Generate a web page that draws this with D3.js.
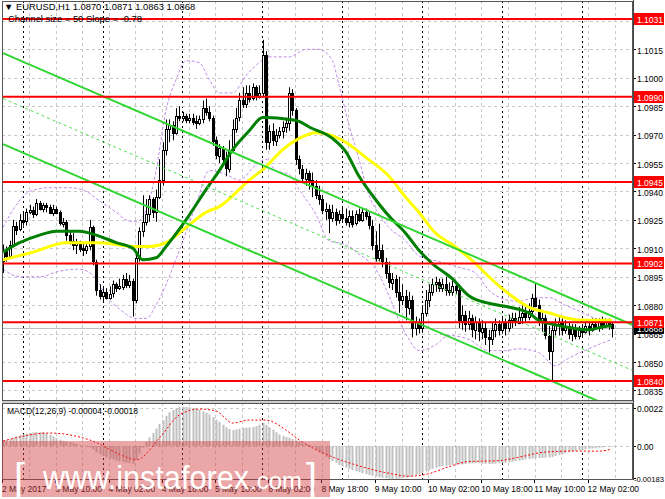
<!DOCTYPE html>
<html><head><meta charset="utf-8">
<script src="https://cdn.jsdelivr.net/npm/d3@7"></script>
<style>
html,body{margin:0;padding:0;background:#fff;}
svg{display:block;}
text{font-family:"Liberation Sans",Arial,sans-serif;}
</style></head><body>
<svg id="c" width="665" height="499"></svg>
<script>
// ---------------- DATA ----------------
const symbolTitle = "EURUSD,H1";
const headerOHLC = ["1.0870", "1.0871", "1.0863", "1.0868"];
const channelText = "Channel size = 50 Slope = -0.78";
const macdText = "MACD(12,26,9) -0.00004 -0.00018";

const timeLabels = ["2 May 2017","3 May 10:00","4 May 02:00","4 May 18:00","5 May 10:00","8 May 02:00","8 May 18:00","9 May 10:00","10 May 02:00","10 May 18:00","11 May 10:00","12 May 02:00"];
const timeLabelBars = [0,16,32,48,64,80,96,112,128,144,160,176];
const daySeparatorBars = [6,30,54,78,102,126,150,174];

const priceTicks = [1.0835,1.0850,1.0865,1.0880,1.0895,1.0910,1.0925,1.0940,1.0955,1.0970,1.0985,1.1000,1.1015,1.1030];
const levelPrices = [1.1031,1.0990,1.0945,1.0902,1.0871,1.0840];
const currentPrice = 1.0868;
const macdTicks = [0.0022, 0.0, -0.00183];
const macdTickLabels = ["0.0022", "0.00", "-0.00183"];

const open = [
1.0903,1.0909,1.0906,1.0912,1.0922,1.0920,1.0925,1.0924,1.0929,1.0930,
1.0928,1.0934,1.0931,1.0933,1.0932,1.0929,1.0931,1.0929,1.0923,1.0924,
1.0917,1.0914,1.0912,1.0913,1.0910,1.0909,1.0911,1.0921,1.0903,1.0888,
1.0885,1.0887,1.0884,1.0886,1.0891,1.0889,1.0890,1.0894,1.0891,1.0893,
1.0883,1.0905,1.0919,1.0924,1.0928,1.0936,1.0929,1.0937,1.0946,1.0962,
1.0973,1.0975,1.0971,1.0980,1.0979,1.0980,1.0978,1.0979,1.0977,1.0976,
1.0978,1.0984,1.0982,1.0979,1.0967,1.0959,1.0963,1.0957,1.0952,1.0962,
1.0973,1.0979,1.0988,1.0986,1.0992,1.0989,1.0995,1.0990,1.0992,1.1012,
1.0966,1.0972,1.0967,1.0970,1.0972,1.0974,1.0976,1.0992,1.0983,1.0957,
1.0952,1.0947,1.0950,1.0946,1.0943,1.0938,1.0936,1.0930,1.0931,1.0926,
1.0929,1.0925,1.0928,1.0926,1.0924,1.0927,1.0923,1.0928,1.0925,1.0929,
1.0927,1.0922,1.0912,1.0905,1.0909,1.0903,1.0897,1.0892,1.0894,1.0887,
1.0883,1.0885,1.0879,1.0883,1.0868,1.0871,1.0868,1.0876,1.0883,1.0887,
1.0891,1.0892,1.0889,1.0891,1.0888,1.0887,1.0890,1.0888,1.0872,1.0875,
1.0870,1.0873,1.0867,1.0871,1.0866,1.0868,1.0863,1.0862,1.0867,1.0870,
1.0867,1.0871,1.0868,1.0872,1.0873,1.0871,1.0874,1.0876,1.0874,1.0877,
1.0884,1.0880,1.0871,1.0873,1.0864,1.0856,1.0867,1.0870,1.0871,1.0867,
1.0869,1.0865,1.0868,1.0864,1.0867,1.0866,1.0869,1.0867,1.0870,1.0868,
1.0871,1.0869,1.0871,1.0870];
const high = [
1.0912,1.0911,1.0914,1.0925,1.0924,1.0928,1.0929,1.0931,1.0933,1.0932,
1.0936,1.0935,1.0934,1.0934,1.0933,1.0933,1.0932,1.0930,1.0926,1.0925,
1.0919,1.0918,1.0915,1.0914,1.0913,1.0913,1.0925,1.0922,1.0904,1.0891,
1.0889,1.0889,1.0890,1.0893,1.0892,1.0894,1.0896,1.0897,1.0896,1.0894,
1.0908,1.0921,1.0938,1.0936,1.0938,1.0937,1.0941,1.0957,1.0966,1.0978,
1.0978,1.0977,1.0984,1.0985,1.0982,1.0981,1.0981,1.0981,1.0980,1.0980,
1.0988,1.0989,1.0985,1.0980,1.0969,1.0965,1.0964,1.0961,1.0967,1.0978,
1.0984,1.0992,1.0995,1.0996,1.0996,1.0997,1.0996,1.0996,1.1020,1.1014,
1.0975,1.0976,1.0973,1.0974,1.0977,1.0979,1.0995,1.0994,1.0984,1.0959,
1.0954,1.0952,1.0951,1.0950,1.0946,1.0943,1.0938,1.0934,1.0933,1.0933,
1.0931,1.0930,1.0932,1.0931,1.0930,1.0930,1.0930,1.0931,1.0931,1.0931,
1.0929,1.0925,1.0919,1.0923,1.0912,1.0905,1.0903,1.0897,1.0896,1.0895,
1.0891,1.0888,1.0887,1.0885,1.0874,1.0873,1.0880,1.0888,1.0891,1.0894,
1.0895,1.0894,1.0894,1.0895,1.0892,1.0893,1.0892,1.0891,1.0880,1.0877,
1.0877,1.0875,1.0874,1.0873,1.0872,1.0871,1.0867,1.0871,1.0873,1.0872,
1.0874,1.0873,1.0875,1.0876,1.0876,1.0879,1.0880,1.0880,1.0881,1.0886,
1.0892,1.0883,1.0876,1.0875,1.0869,1.0870,1.0873,1.0874,1.0873,1.0872,
1.0871,1.0870,1.0870,1.0869,1.0870,1.0872,1.0872,1.0873,1.0873,1.0873,
1.0874,1.0873,1.0873,1.0871];
const low = [
1.0897,1.0903,1.0905,1.0911,1.0917,1.0919,1.0922,1.0922,1.0928,1.0926,
1.0927,1.0930,1.0929,1.0929,1.0928,1.0927,1.0928,1.0922,1.0921,1.0914,
1.0912,1.0909,1.0907,1.0908,1.0906,1.0907,1.0909,1.0901,1.0885,1.0883,
1.0882,1.0883,1.0883,1.0884,1.0887,1.0888,1.0888,1.0889,1.0889,1.0874,
1.0881,1.0903,1.0916,1.0922,1.0924,1.0926,1.0924,1.0936,1.0943,1.0959,
1.0966,1.0967,1.0970,1.0977,1.0977,1.0976,1.0976,1.0975,1.0973,1.0975,
1.0976,1.0980,1.0977,1.0964,1.0957,1.0955,1.0954,1.0948,1.0950,1.0961,
1.0971,1.0977,1.0984,1.0984,1.0987,1.0988,1.0988,1.0989,1.0990,1.0962,
1.0962,1.0964,1.0964,1.0968,1.0968,1.0971,1.0972,1.0980,1.0954,1.0949,
1.0945,1.0943,1.0941,1.0937,1.0936,1.0933,1.0928,1.0925,1.0918,1.0924,
1.0922,1.0923,1.0924,1.0922,1.0921,1.0921,1.0922,1.0924,1.0924,1.0925,
1.0920,1.0909,1.0903,1.0903,1.0900,1.0894,1.0889,1.0888,1.0884,1.0876,
1.0880,1.0872,1.0875,1.0863,1.0864,1.0865,1.0866,1.0874,1.0879,1.0885,
1.0887,1.0887,1.0887,1.0885,1.0885,1.0885,1.0886,1.0868,1.0867,1.0866,
1.0867,1.0863,1.0862,1.0861,1.0862,1.0859,1.0855,1.0859,1.0863,1.0864,
1.0865,1.0864,1.0866,1.0868,1.0869,1.0870,1.0870,1.0871,1.0872,1.0875,
1.0879,1.0869,1.0866,1.0862,1.0851,1.0840,1.0864,1.0864,1.0864,1.0865,
1.0862,1.0861,1.0862,1.0862,1.0863,1.0865,1.0864,1.0866,1.0867,1.0866,
1.0867,1.0868,1.0867,1.0863];
const close = [
1.0909,1.0906,1.0912,1.0922,1.0920,1.0925,1.0924,1.0929,1.0930,1.0928,
1.0934,1.0931,1.0933,1.0932,1.0929,1.0931,1.0929,1.0923,1.0924,1.0917,
1.0914,1.0912,1.0913,1.0910,1.0909,1.0911,1.0921,1.0903,1.0888,1.0885,
1.0887,1.0884,1.0886,1.0891,1.0889,1.0890,1.0894,1.0891,1.0893,1.0883,
1.0905,1.0919,1.0924,1.0928,1.0936,1.0929,1.0937,1.0946,1.0962,1.0973,
1.0975,1.0971,1.0980,1.0979,1.0980,1.0978,1.0979,1.0977,1.0976,1.0978,
1.0984,1.0982,1.0979,1.0967,1.0959,1.0963,1.0957,1.0952,1.0962,1.0973,
1.0979,1.0988,1.0986,1.0992,1.0989,1.0995,1.0990,1.0992,1.1012,1.0966,
1.0972,1.0967,1.0970,1.0972,1.0974,1.0976,1.0992,1.0983,1.0957,1.0952,
1.0947,1.0950,1.0946,1.0943,1.0938,1.0936,1.0930,1.0931,1.0926,1.0929,
1.0925,1.0928,1.0926,1.0924,1.0927,1.0923,1.0928,1.0925,1.0929,1.0927,
1.0922,1.0912,1.0905,1.0909,1.0903,1.0897,1.0892,1.0894,1.0887,1.0883,
1.0885,1.0879,1.0883,1.0868,1.0871,1.0868,1.0876,1.0883,1.0887,1.0891,
1.0892,1.0889,1.0891,1.0888,1.0887,1.0890,1.0888,1.0872,1.0875,1.0870,
1.0873,1.0867,1.0871,1.0866,1.0868,1.0863,1.0862,1.0867,1.0870,1.0867,
1.0871,1.0868,1.0872,1.0873,1.0871,1.0874,1.0876,1.0874,1.0877,1.0884,
1.0880,1.0871,1.0873,1.0864,1.0856,1.0867,1.0870,1.0871,1.0867,1.0869,
1.0865,1.0868,1.0864,1.0867,1.0866,1.0869,1.0867,1.0870,1.0868,1.0871,
1.0869,1.0871,1.0870,1.0868];

// moving averages (read at sample bars)
const greenMaBar = [0,5,11,16,23,28,34,39,42,46,49,55,61,65,69,74,78,79,86,89,92,99,103,107,111,116,121,125,129,135,140,146,152,158,161,165,171,176,182,183];
const greenMaPrice = [1.0908,1.0913,1.0917,1.0919,1.0919,1.0917,1.0913,1.0910,1.0904,1.0905,1.0911,1.0925,1.0941,1.0951,1.0962,1.0972,1.0979,1.0979,1.0978,1.0977,1.0974,1.0968,1.0961,1.0948,1.0938,1.0927,1.0918,1.0909,1.0902,1.0894,1.0885,1.0881,1.0879,1.0876,1.0872,1.0870,1.0868,1.0867,1.0869,1.0869];
const yellowMaBar = [0,9,19,29,39,44,49,55,61,65,74,79,84,89,94,98,103,109,116,121,125,130,135,142,146,152,158,164,170,176,182,183];
const yellowMaPrice = [1.0904,1.0908,1.0913,1.0913,1.0911,1.0911,1.0913,1.0921,1.0929,1.0932,1.0946,1.0953,1.0962,1.0968,1.0971,1.0970,1.0966,1.0958,1.0948,1.0937,1.0929,1.0918,1.0912,1.0902,1.0895,1.0886,1.0879,1.0876,1.0873,1.0872,1.0872,1.0872];

// bands (purple dashed)
const bbUpperBar = [0,4,8,14,20,25,29,34,37,40,43,46,49,52,55,59,62,65,69,73,77,80,86,91,95,99,101,104,107,110,113,116,121,125,131,137,142,146,151,155,160,164,169,173,178,183];
const bbUpperPrice = [1.0921,1.0933,1.0940,1.0942,1.0942,1.0940,1.0935,1.0929,1.0925,1.0924,1.0930,1.0951,1.0983,1.0999,1.1009,1.1008,1.0999,1.0992,1.0992,1.1001,1.1008,1.1011,1.1011,1.1015,1.1015,1.1009,1.0996,1.0975,1.0957,1.0938,1.0928,1.0921,1.0914,1.0906,1.0903,1.0900,1.0897,1.0888,1.0883,1.0882,1.0884,1.0884,1.0880,1.0877,1.0873,1.0870];
const bbLowerBar = [0,5,11,17,23,28,31,35,40,43,46,49,53,58,62,67,71,76,79,82,86,89,94,98,103,107,112,116,119,122,125,130,134,140,146,151,155,161,166,170,176,183];
const bbLowerPrice = [1.0899,1.0895,1.0895,1.0898,1.0899,1.0894,1.0885,1.0878,1.0873,1.0873,1.0880,1.0891,1.0909,1.0933,1.0951,1.0949,1.0946,1.0954,1.0957,1.0951,1.0949,1.0941,1.0928,1.0914,1.0912,1.0907,1.0899,1.0885,1.0872,1.0862,1.0856,1.0859,1.0864,1.0862,1.0856,1.0856,1.0857,1.0855,1.0848,1.0852,1.0857,1.0862];

// regression channel (endpoints)
const channelBars = [0, 190];
const channelUpper = [1.1013, 1.0869];
const channelMid = [1.0989, 1.0845];
const channelLower = [1.0965, 1.0821];

// MACD
const macdMain = [
0.00030,0.00035,0.00040,0.00048,0.00056,0.00063,0.00068,0.00072,0.00075,0.00079,
0.00081,0.00082,0.00080,0.00074,0.00065,0.00057,0.00046,0.00036,0.00030,0.00027,
0.00023,0.00018,0.00012,0.00005,0.00000,-0.00006,-0.00009,-0.00020,-0.00036,-0.00048,
-0.00058,-0.00066,-0.00072,-0.00078,-0.00084,-0.00089,-0.00093,-0.00096,-0.00100,-0.00102,
-0.00080,-0.00045,-0.00010,0.00025,0.00050,0.00076,0.00100,0.00128,0.00150,0.00175,
0.00195,0.00208,0.00218,0.00225,0.00227,0.00226,0.00224,0.00220,0.00215,0.00210,
0.00200,0.00192,0.00182,0.00168,0.00153,0.00140,0.00123,0.00108,0.00098,0.00093,
0.00096,0.00100,0.00104,0.00106,0.00108,0.00110,0.00115,0.00123,0.00133,0.00122,
0.00108,0.00094,0.00080,0.00067,0.00058,0.00052,0.00047,0.00040,0.00032,0.00025,
0.00018,0.00012,0.00006,-0.00008,-0.00024,-0.00038,-0.00050,-0.00063,-0.00076,-0.00088,
-0.00098,-0.00109,-0.00118,-0.00126,-0.00133,-0.00140,-0.00146,-0.00152,-0.00158,-0.00163,
-0.00168,-0.00173,-0.00177,-0.00181,-0.00184,-0.00187,-0.00189,-0.00190,-0.00190,-0.00189,
-0.00187,-0.00184,-0.00180,-0.00175,-0.00169,-0.00162,-0.00155,-0.00147,-0.00139,-0.00132,
-0.00126,-0.00121,-0.00117,-0.00114,-0.00111,-0.00109,-0.00107,-0.00106,-0.00106,-0.00104,
-0.00102,-0.00101,-0.00100,-0.00100,-0.00101,-0.00103,-0.00105,-0.00104,-0.00102,-0.00100,
-0.00099,-0.00097,-0.00095,-0.00091,-0.00088,-0.00085,-0.00081,-0.00078,-0.00075,-0.00073,
-0.00071,-0.00070,-0.00069,-0.00067,-0.00066,-0.00064,-0.00058,-0.00052,-0.00048,-0.00042,
-0.00037,-0.00032,-0.00028,-0.00025,-0.00022,-0.00019,-0.00016,-0.00014,-0.00012,-0.00010,
-0.00008,-0.00006,-0.00005,-0.00004];
const signalBar = [0,14,26,37,40,47,53,59,64,69,74,79,85,89,98,107,116,122,128,134,140,149,155,163,172,179,183];
const signalValue = [0.00029,0.00075,0.00035,-0.00064,-0.00081,0.00046,0.00180,0.00214,0.00203,0.00133,0.00150,0.00150,0.00093,0.00035,-0.00055,-0.00115,-0.00158,-0.00175,-0.00160,-0.00120,-0.00090,-0.00085,-0.00065,-0.00035,-0.00029,-0.00030,-0.00018];

// ---------------- LAYOUT ----------------
const svg = d3.select("#c");
const plotL = 2, plotR = 633, mainT = 1, mainB = 401, macdT = 403, macdB = 480;
const x = d3.scaleLinear().domain([0, 190]).range([3.04, 3.04 + 190 * 3.327]);
const y = d3.scaleLinear().domain([1.0840, 1.1031]).range([381, 19]);
const ym = d3.scaleLinear().domain([-0.00183, 0.0022]).range([477.6, 408]);
const px = v => Math.round(v) + 0.5;

svg.append("rect").attr("width", 665).attr("height", 499).attr("fill", "#fff");
const defs = svg.append("defs");
defs.append("clipPath").attr("id", "clipMain").append("rect")
  .attr("x", plotL).attr("y", mainT).attr("width", plotR - plotL).attr("height", mainB - mainT);
defs.append("clipPath").attr("id", "clipMacd").append("rect")
  .attr("x", plotL).attr("y", macdT).attr("width", plotR - plotL).attr("height", macdB - macdT);

const gMain = svg.append("g").attr("clip-path", "url(#clipMain)");
const gMacd = svg.append("g").attr("clip-path", "url(#clipMacd)");

// grid
const gridBars = d3.range(8, 190, 8);
[[gMain, mainT, mainB], [gMacd, macdT, macdB]].forEach(([g, t, b]) => {
  g.append("g").selectAll("line").data(gridBars).join("line")
    .attr("x1", d => px(x(d) - 0.7)).attr("x2", d => px(x(d) - 0.7))
    .attr("y1", t).attr("y2", b)
    .attr("stroke", "#c8c8c8").attr("stroke-width", 1).attr("stroke-dasharray", "3,3");
  g.append("g").selectAll("line").data(daySeparatorBars).join("line")
    .attr("x1", d => px(x(d) - 0.3)).attr("x2", d => px(x(d) - 0.3))
    .attr("y1", t).attr("y2", b)
    .attr("stroke", "#000").attr("stroke-width", 1).attr("stroke-dasharray", "2,3");
});
gMain.append("g").selectAll("line").data(priceTicks).join("line")
  .attr("x1", plotL).attr("x2", plotR)
  .attr("y1", d => px(y(d))).attr("y2", d => px(y(d)))
  .attr("stroke", "#c8c8c8").attr("stroke-dasharray", "3,3");
gMacd.append("g").selectAll("line").data(macdTicks.slice(0, 2)).join("line")
  .attr("x1", plotL).attr("x2", plotR)
  .attr("y1", d => px(ym(d))).attr("y2", d => px(ym(d)))
  .attr("stroke", "#c8c8c8").attr("stroke-dasharray", "3,3");

// bands
const lineXY = d3.line().x(d => x(d[0])).y(d => y(d[1])).curve(d3.curveMonotoneX);
[[bbUpperBar, bbUpperPrice], [bbLowerBar, bbLowerPrice]].forEach(([b, p]) => {
  gMain.append("path").datum(b.map((v, i) => [v, p[i]])).attr("d", lineXY)
    .attr("fill", "none").attr("stroke", "#c08ae8").attr("stroke-width", 1).attr("stroke-dasharray", "3,2");
});

// current price line
gMain.append("line").attr("x1", plotL).attr("x2", plotR)
  .attr("y1", px(y(currentPrice))).attr("y2", px(y(currentPrice)))
  .attr("stroke", "#c0c0c0").attr("stroke-width", 1);

// candles
const idx = d3.range(open.length);
const gC = gMain.append("g");
gC.selectAll("line").data(idx).join("line")
  .attr("x1", i => px(x(i))).attr("x2", i => px(x(i)))
  .attr("y1", i => y(high[i])).attr("y2", i => y(low[i]))
  .attr("stroke", "#000").attr("stroke-width", 1);
gC.selectAll("rect").data(idx).join("rect")
  .attr("x", i => Math.round(x(i)) - 0.5)
  .attr("y", i => Math.round(y(Math.max(open[i], close[i]))) + 0.5)
  .attr("width", 2)
  .attr("height", i => Math.max(0, Math.round(Math.abs(y(open[i]) - y(close[i])))))
  .attr("fill", i => close[i] >= open[i] ? "#fff" : "#000")
  .attr("stroke", "#000").attr("stroke-width", 1);

// moving averages
gMain.append("path").datum(yellowMaBar.map((v, i) => [v, yellowMaPrice[i]])).attr("d", lineXY)
  .attr("fill", "none").attr("stroke", "#ffff00").attr("stroke-width", 3);
gMain.append("path").datum(greenMaBar.map((v, i) => [v, greenMaPrice[i]])).attr("d", lineXY)
  .attr("fill", "none").attr("stroke", "#008000").attr("stroke-width", 3);

// channel
const straight = d3.line().x(d => x(d[0])).y(d => y(d[1]));
[[channelUpper, "#32d632", 2, null], [channelLower, "#32d632", 2, null], [channelMid, "#4fe04f", 1, "3,3"]].forEach(([c, col, w, dash]) => {
  gMain.append("path").datum(channelBars.map((b, i) => [b, c[i]])).attr("d", straight)
    .attr("fill", "none").attr("stroke", col).attr("stroke-width", w).attr("stroke-dasharray", dash);
});

// header texts
svg.append("text").attr("x", 4).attr("y", 10).attr("font-size", 9.4).attr("fill", "#000")
  .text("\u25BC " + symbolTitle + "  " + headerOHLC.join(" "));
svg.append("text").attr("x", 8).attr("y", 22).attr("font-size", 9.4).attr("fill", "#000").text(channelText);

// red level lines
gMain.append("g").selectAll("line").data(levelPrices).join("line")
  .attr("x1", plotL).attr("x2", plotR)
  .attr("y1", d => y(d)).attr("y2", d => y(d))
  .attr("stroke", "#ff0000").attr("stroke-width", 2);

// MACD
const gH = gMacd.append("g");
gH.selectAll("rect").data(idx).join("rect")
  .attr("x", i => Math.round(x(i)) - 0.5)
  .attr("width", 2)
  .attr("y", i => Math.min(ym(0), ym(macdMain[i])))
  .attr("height", i => Math.abs(ym(macdMain[i]) - ym(0)))
  .attr("fill", "#c0c0c0");
const lineM = d3.line().x(d => x(d[0])).y(d => ym(d[1])).curve(d3.curveMonotoneX);
gMacd.append("path").datum(signalBar.map((b, i) => [b, signalValue[i]])).attr("d", lineM)
  .attr("fill", "none").attr("stroke", "#ff0000").attr("stroke-width", 1).attr("stroke-dasharray", "2,2");
svg.append("text").attr("x", 7).attr("y", 414).attr("font-size", 8.5).attr("fill", "#000").text(macdText);

// frames
svg.append("rect").attr("x", plotL + 0.5).attr("y", mainT + 0.5).attr("width", plotR - plotL - 1).attr("height", mainB - mainT - 1)
  .attr("fill", "none").attr("stroke", "#555");
svg.append("rect").attr("x", plotL + 0.5).attr("y", macdT + 0.5).attr("width", plotR - plotL - 1).attr("height", macdB - macdT - 1)
  .attr("fill", "none").attr("stroke", "#555");
svg.append("line").attr("x1", plotL).attr("x2", plotR).attr("y1", mainB + 1).attr("y2", mainB + 1).attr("stroke", "#999");

// right axis
const gAx = svg.append("g");
gAx.selectAll("line.t").data(priceTicks).join("line").attr("class", "t")
  .attr("x1", plotR).attr("x2", plotR + 3).attr("y1", d => px(y(d))).attr("y2", d => px(y(d))).attr("stroke", "#000");
gAx.selectAll("text.t").data(priceTicks).join("text").attr("class", "t")
  .attr("x", plotR + 4).attr("y", d => y(d) + 4.5).attr("font-size", 8.5).attr("fill", "#000")
  .text(d => d.toFixed(4));
gAx.selectAll("line.m").data(macdTicks).join("line").attr("class", "m")
  .attr("x1", plotR).attr("x2", plotR + 3).attr("y1", d => px(ym(d))).attr("y2", d => px(ym(d))).attr("stroke", "#000");
gAx.selectAll("text.m").data(macdTicks).join("text").attr("class", "m")
  .attr("x", (d, i) => i === 2 ? plotR + 1 : plotR + 4)
  .attr("y", d => ym(d) + 4)
  .attr("font-size", (d, i) => i === 2 ? 7.6 : 8.5).attr("fill", "#000")
  .text((d, i) => macdTickLabels[i]);

// level labels (current price label first, red level labels drawn over it)
const gL = svg.append("g");
gL.append("rect").attr("x", plotR + 1).attr("y", Math.round(y(currentPrice)) - 5).attr("width", 30).attr("height", 11).attr("fill", "#000");
gL.append("text").attr("x", plotR + 4).attr("y", y(currentPrice) + 4).attr("font-size", 8.5).attr("fill", "#fff").text(currentPrice.toFixed(4));
levelPrices.forEach(p => {
  gL.append("rect").attr("x", plotR + 1).attr("y", Math.round(y(p)) - 6).attr("width", 30).attr("height", 12).attr("fill", "#ff0000");
  gL.append("text").attr("x", plotR + 4).attr("y", y(p) + 4).attr("font-size", 8.5).attr("fill", "#fff").text(p.toFixed(4));
});

// time axis
const gT = svg.append("g");
gT.selectAll("line").data(timeLabelBars).join("line")
  .attr("x1", d => px(x(d) - 1)).attr("x2", d => px(x(d) - 1)).attr("y1", macdB).attr("y2", macdB + 3).attr("stroke", "#000");
gT.selectAll("text").data(timeLabelBars).join("text")
  .attr("x", d => x(d) - 1).attr("y", 492).attr("font-size", 8.5).attr("fill", "#000")
  .text((d, i) => timeLabels[i]);

// right axis vertical line
svg.append("line").attr("x1", plotR + 0.5).attr("x2", plotR + 0.5).attr("y1", 0).attr("y2", macdB).attr("stroke", "#444");

// watermark
const gW = svg.append("g");
gW.append("rect").attr("x", 2).attr("y", 441).attr("width", 328).attr("height", 56).attr("fill", "#d23c3c").attr("opacity", 0.45);
gW.append("text").attr("x", 14).attr("y", 492).attr("font-size", 40).attr("font-weight", 300).attr("fill", "#fff")
  .attr("font-family", "'Open Sans',sans-serif").text("[");
gW.append("text").attr("x", 43).attr("y", 489).attr("font-size", 34).attr("font-weight", 300).attr("fill", "#fff")
  .attr("font-family", "'Open Sans',sans-serif").attr("textLength", 206).attr("lengthAdjust", "spacingAndGlyphs").text("www.instaforex");
gW.append("text").attr("x", 250).attr("y", 489).attr("font-size", 24).attr("font-weight", 300).attr("fill", "#fff")
  .attr("font-family", "'Open Sans',sans-serif").attr("textLength", 52).attr("lengthAdjust", "spacingAndGlyphs").text(".com");
gW.append("text").attr("x", 306).attr("y", 492).attr("font-size", 40).attr("font-weight", 300).attr("fill", "#fff")
  .attr("font-family", "'Open Sans',sans-serif").text("]");
</script>
</body></html>
